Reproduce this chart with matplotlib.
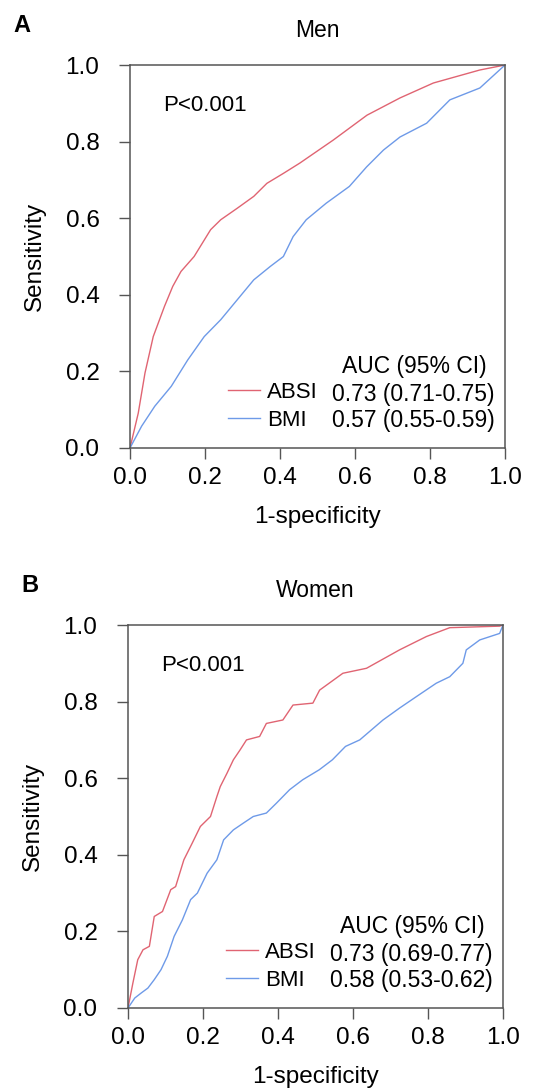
import matplotlib
matplotlib.use('Agg')
import matplotlib.pyplot as plt

plt.rcParams['font.family'] = ['Liberation Sans', 'DejaVu Sans']

# Men, ABSI ROC (1-specificity, sensitivity)
men_absi_x = [0.0, 0.022, 0.04, 0.062, 0.092, 0.114, 0.136, 0.171, 0.215, 0.242, 0.286,
              0.33, 0.365, 0.409, 0.453, 0.542, 0.632, 0.72, 0.809, 0.933, 1.0]
men_absi_y = [0.0, 0.091, 0.196, 0.291, 0.37, 0.422, 0.461, 0.50, 0.57, 0.596, 0.626,
              0.657, 0.691, 0.717, 0.744, 0.804, 0.869, 0.914, 0.953, 0.987, 1.0]
# Men, BMI ROC
men_bmi_x = [0.0, 0.031, 0.066, 0.11, 0.154, 0.198, 0.242, 0.286, 0.33, 0.374, 0.409,
             0.435, 0.47, 0.523, 0.585, 0.631, 0.676, 0.72, 0.791, 0.853, 0.933, 1.0]
men_bmi_y = [0.0, 0.057, 0.109, 0.161, 0.23, 0.291, 0.335, 0.387, 0.439, 0.474, 0.50,
             0.552, 0.596, 0.639, 0.683, 0.734, 0.778, 0.812, 0.848, 0.909, 0.94, 1.0]

# Women, ABSI ROC
women_absi_x = [0.0, 0.013, 0.026, 0.04, 0.057, 0.07, 0.092, 0.114, 0.127, 0.149, 0.171,
                0.193, 0.22, 0.237, 0.246, 0.264, 0.281, 0.299, 0.316, 0.351, 0.369,
                0.413, 0.44, 0.493, 0.511, 0.573, 0.636, 0.724, 0.796, 0.858, 0.991, 1.0]
women_absi_y = [0.0, 0.065, 0.126, 0.152, 0.161, 0.239, 0.252, 0.309, 0.317, 0.387, 0.43,
                0.474, 0.50, 0.552, 0.578, 0.613, 0.648, 0.674, 0.70, 0.709, 0.743,
                0.752, 0.791, 0.796, 0.83, 0.874, 0.887, 0.935, 0.97, 0.993, 0.997, 1.0]
# Women, BMI ROC
women_bmi_x = [0.0, 0.018, 0.035, 0.053, 0.07, 0.088, 0.105, 0.123, 0.145, 0.167, 0.185,
               0.211, 0.237, 0.255, 0.281, 0.308, 0.334, 0.369, 0.396, 0.431, 0.466,
               0.51, 0.545, 0.58, 0.618, 0.68, 0.724, 0.769, 0.822, 0.858, 0.893,
               0.902, 0.938, 0.991, 1.0]
women_bmi_y = [0.0, 0.026, 0.039, 0.052, 0.074, 0.10, 0.135, 0.187, 0.23, 0.283, 0.30,
               0.352, 0.387, 0.439, 0.465, 0.483, 0.50, 0.509, 0.535, 0.57, 0.596,
               0.622, 0.648, 0.683, 0.70, 0.752, 0.783, 0.813, 0.848, 0.865, 0.90,
               0.935, 0.961, 0.978, 1.0]

titles = ['Men', 'Women']
panel_letters = ['A', 'B']
auc_absi = ['0.73 (0.71-0.75)', '0.73 (0.69-0.77)']
auc_bmi = ['0.57 (0.55-0.59)', '0.58 (0.53-0.62)']

red = '#E06472'
blue = '#6E9AE8'
ticks = [0.0, 0.2, 0.4, 0.6, 0.8, 1.0]

fig = plt.figure(figsize=(5.34, 10.9), dpi=100)
ax_a = fig.add_axes([130 / 534, 1 - 448 / 1090, 375 / 534, 383 / 1090])
ax_b = fig.add_axes([128 / 534, 1 - 1008 / 1090, 375 / 534, 383 / 1090])

curves = [(men_absi_x, men_absi_y, men_bmi_x, men_bmi_y),
          (women_absi_x, women_absi_y, women_bmi_x, women_bmi_y)]
letter_pos = [(13, 32), (21, 592)]

for i, ax in enumerate([ax_a, ax_b]):
    ab_x, ab_y, bm_x, bm_y = curves[i]
    l1, = ax.plot(ab_x, ab_y, color=red, lw=1.0, label='ABSI')
    l2, = ax.plot(bm_x, bm_y, color=blue, lw=1.0, label='BMI')
    ax.set_xlim(0, 1)
    ax.set_ylim(0, 1)
    ax.set_xticks(ticks)
    ax.set_yticks(ticks)
    ax.set_xticklabels([f'{t:.1f}' for t in ticks])
    ax.set_yticklabels([f'{t:.1f}' for t in ticks])
    ax.tick_params(direction='out', length=8, width=1, color='#555555', labelsize=17.5)
    ax.tick_params(axis='x', pad=6)
    ax.tick_params(axis='y', pad=14)
    for s in ax.spines.values():
        s.set_color('#555555')
        s.set_linewidth(1.1)
    ax.set_xlabel('1-specificity', fontsize=17.5, labelpad=12)
    ax.set_ylabel('Sensitivity', fontsize=17.5, labelpad=14)
    ax.set_title(titles[i], fontsize=16.5, pad=20)
    ax.text(0.088, 0.894, 'P<0.001', fontsize=16, va='center', transform=ax.transAxes)

    ax.legend(handles=[l1, l2], loc='center left', bbox_to_anchor=(0.262, 0.109),
              frameon=False, fontsize=16, handlelength=1.45, handletextpad=0.3,
              labelspacing=0.33, borderpad=0.0, borderaxespad=0.0)
    ax.text(0.565, 0.213, 'AUC (95% CI)', fontsize=16.5, va='center', transform=ax.transAxes)
    ax.text(0.539, 0.140, auc_absi[i], fontsize=16.5, va='center', transform=ax.transAxes)
    ax.text(0.539, 0.072, auc_bmi[i], fontsize=16.5, va='center', transform=ax.transAxes)

    lx, ly = letter_pos[i]
    fig.text(lx / 534, 1 - ly / 1090, panel_letters[i], fontsize=17, fontweight='bold',
             va='baseline', ha='left')

fig.savefig('out.png', dpi=100)
